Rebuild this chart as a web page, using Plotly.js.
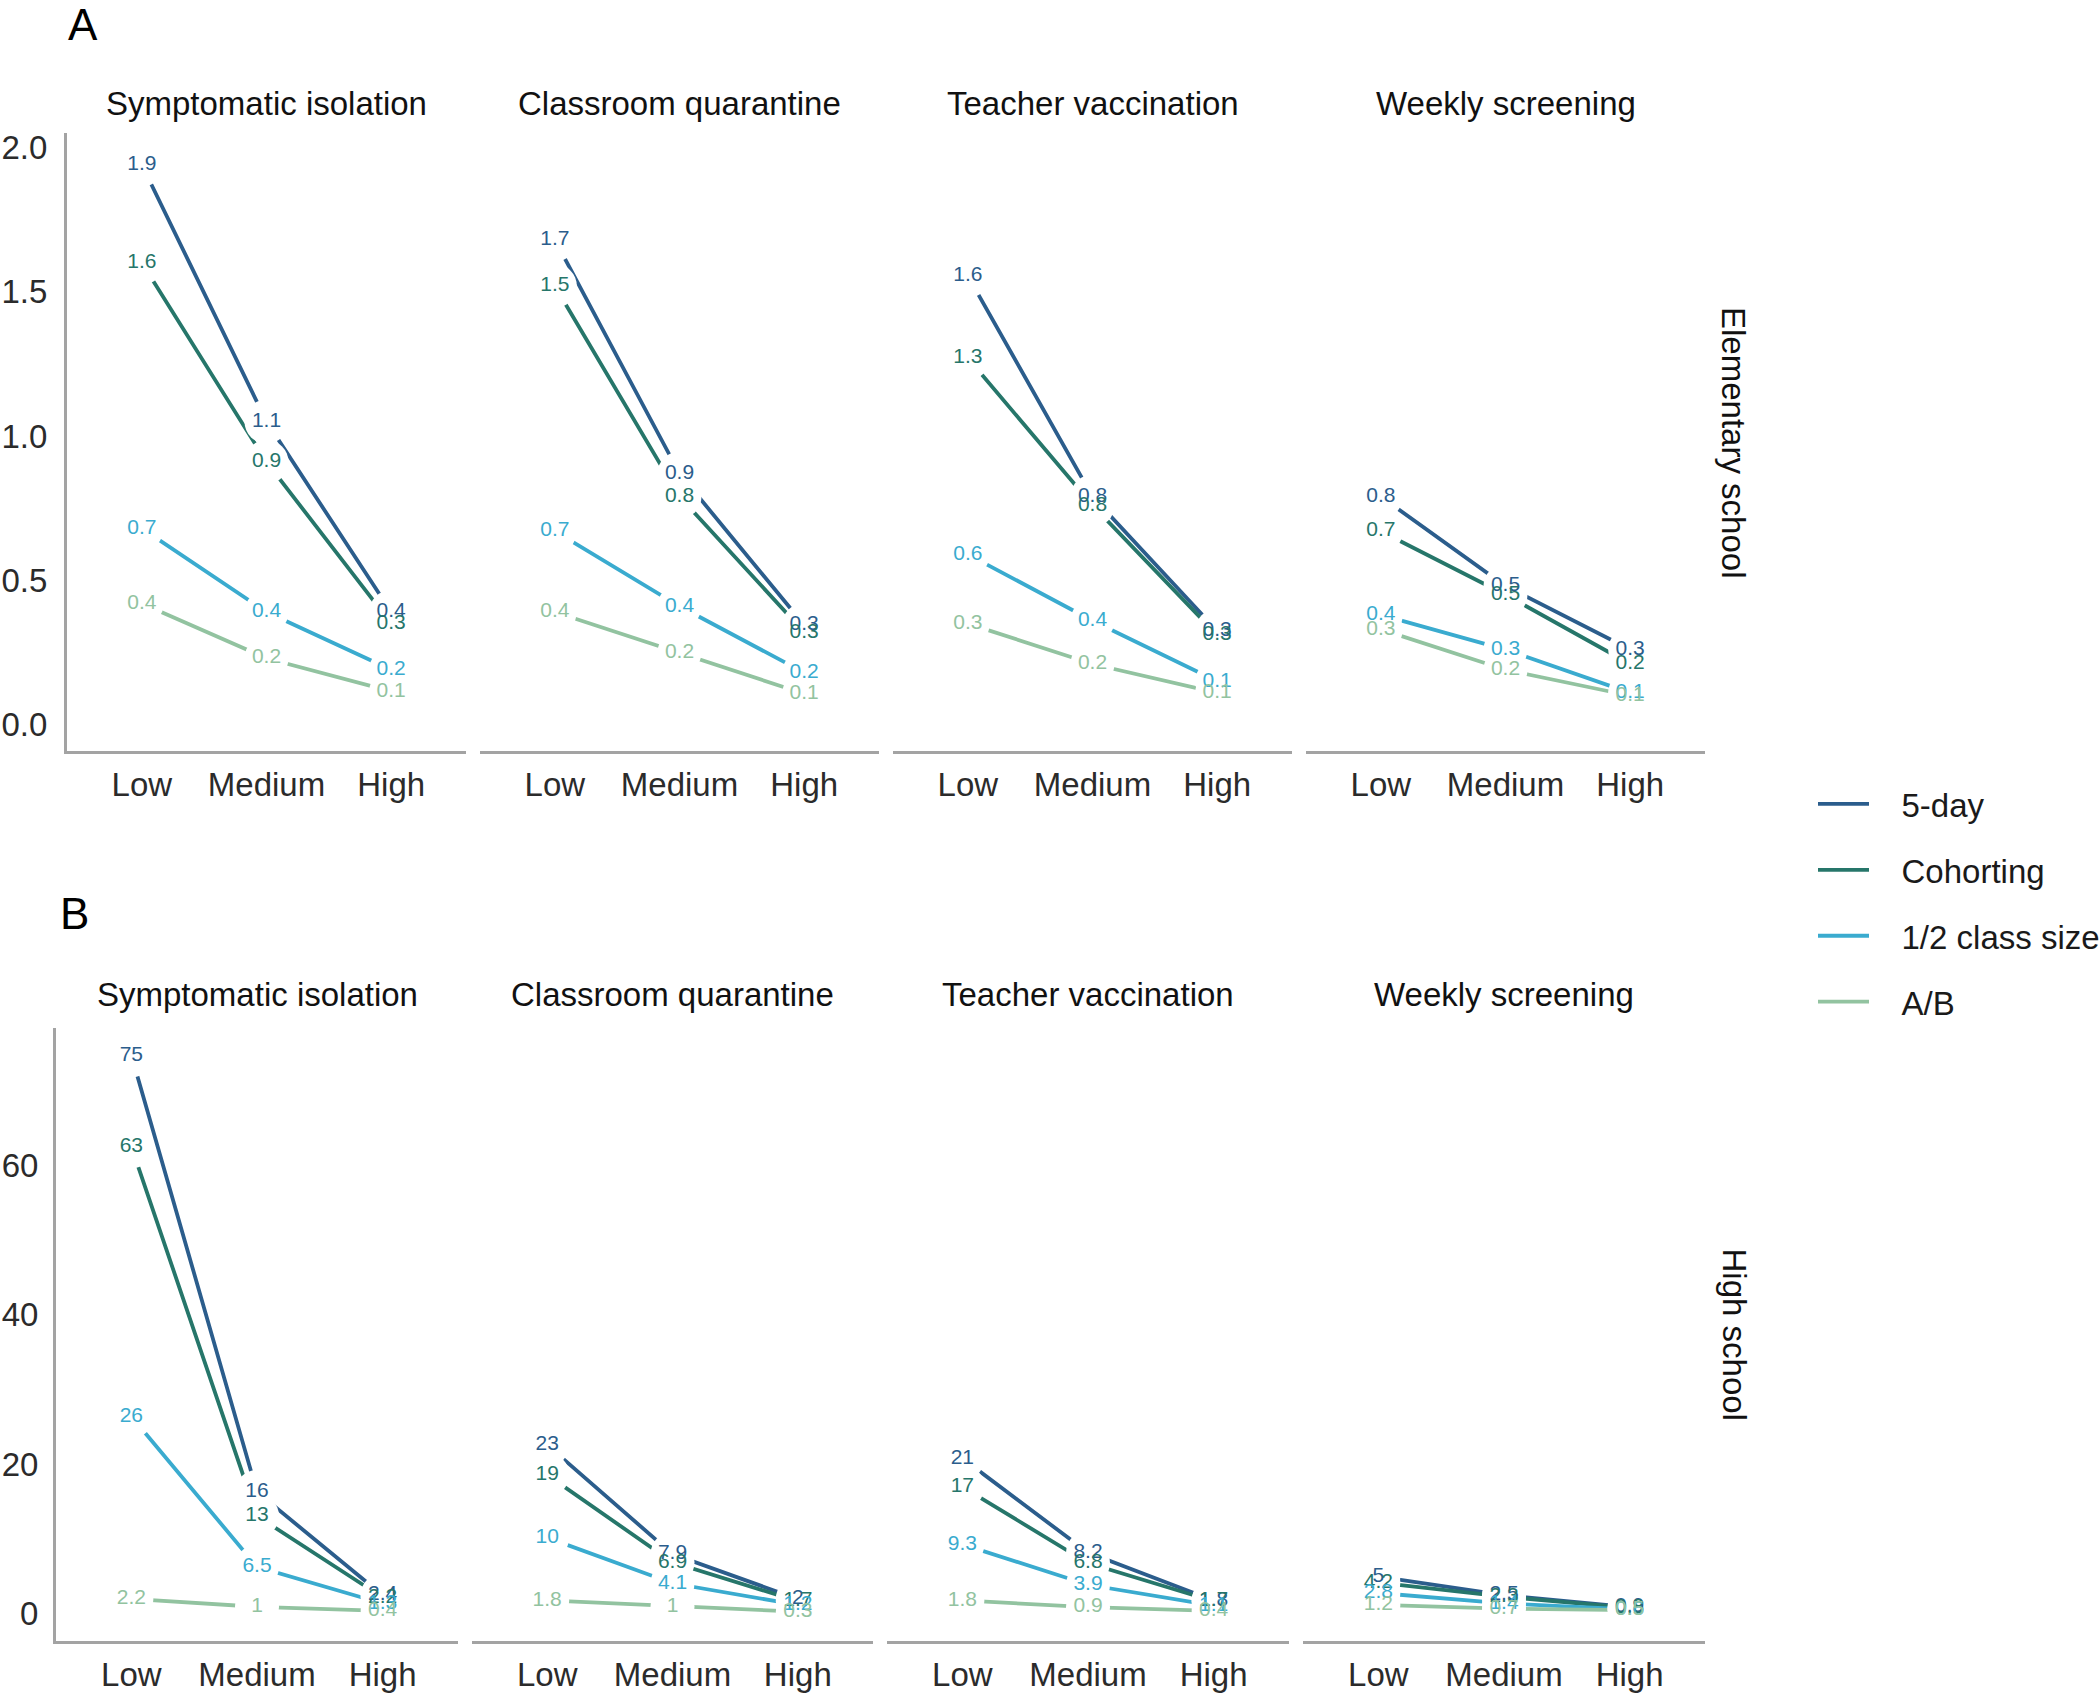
<!DOCTYPE html>
<html><head><meta charset="utf-8">
<script src="https://cdn.plot.ly/plotly-3.0.1.min.js"></script>
<style>body{margin:0;background:#fff}</style>
</head><body><div id="chart" style="width:2100px;height:1697px"></div>
<script>
// ---------- data ----------
const levels = ['Low', 'Medium', 'High'];
const strategies = ['5-day', 'Cohorting', '1/2 class size', 'A/B'];
const interventions = ['Symptomatic isolation', 'Classroom quarantine', 'Teacher vaccination', 'Weekly screening'];
const schools = ['Elementary school', 'High school'];

// Elementary school (panel A): values per strategy at Low / Medium / High
const elemSymptomatic = [[1.94, 1.05, 0.39], [1.60, 0.91, 0.35], [0.68, 0.39, 0.19], [0.42, 0.23, 0.115]];
const elemSymptomaticLabels = [['1.9', '1.1', '0.4'], ['1.6', '0.9', '0.3'], ['0.7', '0.4', '0.2'], ['0.4', '0.2', '0.1']];
const elemQuarantine = [[1.68, 0.87, 0.345], [1.52, 0.79, 0.32], [0.67, 0.41, 0.18], [0.39, 0.25, 0.107]];
const elemQuarantineLabels = [['1.7', '0.9', '0.3'], ['1.5', '0.8', '0.3'], ['0.7', '0.4', '0.2'], ['0.4', '0.2', '0.1']];
const elemVaccination = [[1.555, 0.79, 0.325], [1.27, 0.76, 0.31], [0.59, 0.36, 0.15], [0.35, 0.21, 0.11]];
const elemVaccinationLabels = [['1.6', '0.8', '0.3'], ['1.3', '0.8', '0.3'], ['0.6', '0.4', '0.1'], ['0.3', '0.2', '0.1']];
const elemScreening = [[0.79, 0.48, 0.26], [0.67, 0.45, 0.21], [0.38, 0.26, 0.11], [0.33, 0.19, 0.10]];
const elemScreeningLabels = [['0.8', '0.5', '0.3'], ['0.7', '0.5', '0.2'], ['0.4', '0.3', '0.1'], ['0.3', '0.2', '0.1']];

// High school (panel B)
const highSymptomatic = [[74.7, 16.3, 2.5], [62.5, 13.1, 2.2], [26.4, 6.3, 1.4], [2.0, 0.95, 0.4]];
const highSymptomaticLabels = [['75', '16', '2.4'], ['63', '13', '2.2'], ['26', '6.5', '1.3'], ['2.2', '1', '0.4']];
const highQuarantine = [[22.6, 8.0, 2.0], [18.6, 6.9, 1.7], [10.2, 4.1, 1.2], [1.8, 1.0, 0.3]];
const highQuarantineLabels = [['23', '7.9', '2'], ['19', '6.9', '1.7'], ['10', '4.1', '1.2'], ['1.8', '1', '0.3']];
const highVaccination = [[20.8, 8.2, 1.8], [17.0, 6.8, 1.7], [9.3, 3.9, 1.1], [1.8, 0.9, 0.4]];
const highVaccinationLabels = [['21', '8.2', '1.8'], ['17', '6.8', '1.7'], ['9.3', '3.9', '1.1'], ['1.8', '0.9', '0.4']];
const highScreening = [[5.0, 2.5, 0.9], [4.2, 2.3, 0.8], [2.8, 1.4, 0.6], [1.2, 0.7, 0.5]];
const highScreeningLabels = [['5', '2.5', '0.9'], ['4.2', '2.3', '0.8'], ['2.8', '1.4', '0.6'], ['1.2', '0.7', '0.5']];

const elemTickVals = [0, 0.5, 1, 1.5, 2];
const elemTickText = ['0.0', '0.5', '1.0', '1.5', '2.0'];
const highTickVals = [0, 20, 40, 60];
const highTickText = ['0', '20', '40', '60'];

// ---------- styles ----------
const colors = ['#2b5d8c', '#26766a', '#3aabcf', '#92c3a0'];
const FONT = 'Liberation Sans, Arial, Helvetica, sans-serif';
const W = 2100, H = 1697;
const axisGray = '#a3a3a3';
const legendPad = '\u00a0\u00a0\u00a0';

const panels = [
  {vals: elemSymptomatic, labs: elemSymptomaticLabels},
  {vals: elemQuarantine, labs: elemQuarantineLabels},
  {vals: elemVaccination, labs: elemVaccinationLabels},
  {vals: elemScreening, labs: elemScreeningLabels},
  {vals: highSymptomatic, labs: highSymptomaticLabels},
  {vals: highQuarantine, labs: highQuarantineLabels},
  {vals: highVaccination, labs: highVaccinationLabels},
  {vals: highScreening, labs: highScreeningLabels}
];

const rowGeom = [
  {top: 133, bottom: 751, cols: [[67, 466], [480, 879], [893, 1292], [1306, 1705]],
   range: [-0.0915, 2.05], tickvals: elemTickVals, ticktext: elemTickText, titleY: 104, ystand: 10},
  {top: 1028, bottom: 1641, cols: [[56, 458], [472, 873], [887, 1289], [1303, 1705]],
   range: [-3.62, 78.35], tickvals: highTickVals, ticktext: highTickText, titleY: 995, ystand: 8}
];

const traces = [];
const layout = {
  width: W, height: H, autosize: false,
  margin: {l: 0, r: 0, t: 0, b: 0, pad: 0, autoexpand: false},
  paper_bgcolor: '#fff', plot_bgcolor: '#fff',
  font: {family: FONT, color: '#222'},
  showlegend: true,
  legend: {
    x: 1813 / W, y: 1 - 776 / H, xanchor: 'left', yanchor: 'top',
    font: {size: 33, color: '#1a1a1a', family: FONT},
    tracegroupgap: 20, itemwidth: 51, bgcolor: 'rgba(0,0,0,0)'
  },
  annotations: [],
  hovermode: false
};

panels.forEach((p, i) => {
  const row = i < 4 ? 0 : 1;
  const col = i % 4;
  const g = rowGeom[row];
  const n = i + 1;
  const xa = 'x' + (n === 1 ? '' : n), ya = 'y' + (n === 1 ? '' : n);
  const xKey = 'xaxis' + (n === 1 ? '' : n), yKey = 'yaxis' + (n === 1 ? '' : n);
  const [x0, x1] = g.cols[col];

  layout[xKey] = {
    domain: [x0 / W, x1 / W], anchor: ya, type: 'category',
    categoryorder: 'array', categoryarray: levels, range: [-0.6, 2.6],
    showline: true, linecolor: axisGray, linewidth: 3, ticks: '', showgrid: false, zeroline: false,
    tickfont: {size: 33, color: '#2b2b2b', family: FONT}, ticklabelstandoff: 2, fixedrange: true
  };
  layout[yKey] = {
    domain: [1 - g.bottom / H, 1 - g.top / H], anchor: xa, range: g.range,
    showline: col === 0, linecolor: axisGray, linewidth: 3, ticks: '', showgrid: false, zeroline: false,
    showticklabels: col === 0, tickvals: g.tickvals, ticktext: g.ticktext,
    tickfont: {size: 33, color: '#2b2b2b', family: FONT}, ticklabelstandoff: g.ystand, fixedrange: true
  };

  // lines
  p.vals.forEach((v, s) => {
    traces.push({
      type: 'scatter', mode: 'lines', x: levels, y: v,
      xaxis: xa, yaxis: ya, name: legendPad + strategies[s], legendgroup: strategies[s],
      showlegend: i === 0, line: {color: colors[s], width: 3.8}, cliponaxis: false
    });
  });

  // label gaps + labels (all text drawn above all gap discs)
  const xs = [], ys = [], ts = [], tc = [];
  p.vals.forEach((v, s) => {
    v.forEach((val, k) => {
      xs.push(levels[k]); ys.push(val); ts.push(p.labs[s][k]); tc.push(colors[s]);
    });
  });
  traces.push({
    type: 'scatter', mode: 'markers+text', x: xs, y: ys, text: ts,
    textposition: 'middle center', textfont: {color: tc, size: 21, family: FONT},
    marker: {symbol: 'circle', size: 44, color: '#ffffff', line: {width: 0}},
    xaxis: xa, yaxis: ya, showlegend: false, hoverinfo: 'skip', cliponaxis: false
  });

  // facet title
  layout.annotations.push({
    text: interventions[col], xref: 'paper', yref: 'paper',
    x: (x0 + x1) / 2 / W, y: 1 - g.titleY / H, xanchor: 'center', yanchor: 'middle',
    showarrow: false, font: {size: 33, color: '#111', family: FONT}
  });
});

// panel letters
layout.annotations.push({text: 'A', xref: 'paper', yref: 'paper', x: 83 / W, y: 1 - 24 / H,
  xanchor: 'center', yanchor: 'middle', showarrow: false, font: {size: 44, color: '#000', family: FONT}});
layout.annotations.push({text: 'B', xref: 'paper', yref: 'paper', x: 74 / W, y: 1 - 913 / H,
  xanchor: 'center', yanchor: 'middle', showarrow: false, font: {size: 44, color: '#000', family: FONT}});

// strip labels (row facets)
rowGeom.forEach((g, r) => {
  layout.annotations.push({
    text: schools[r], xref: 'paper', yref: 'paper', x: 1734 / W, y: 1 - (g.top + g.bottom) / 2 / H,
    xanchor: 'center', yanchor: 'middle', textangle: 90, showarrow: false,
    font: {size: 33, color: '#111', family: FONT}
  });
});

Plotly.newPlot('chart', traces, layout, {staticPlot: true, displayModeBar: false});
</script>
</body></html>
